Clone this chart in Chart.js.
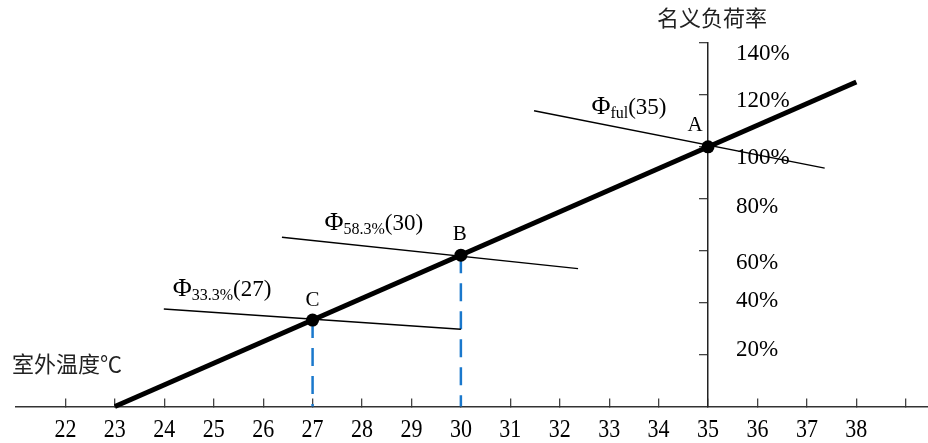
<!DOCTYPE html>
<html>
<head>
<meta charset="utf-8">
<script src="https://cdn.jsdelivr.net/npm/chart.js@4/dist/chart.umd.min.js"></script>
<style>
html,body{margin:0;padding:0;background:#fff;}
#wrap{width:928px;height:443px;position:relative;}
</style>
</head>
<body>
<div id="wrap"><canvas id="c" width="928" height="443"></canvas></div>
<script>
// ---- data ----
const xTicks = [22,23,24,25,26,27,28,29,30,31,32,33,34,35,36,37,38,39];
const xTickLabels = ['22','23','24','25','26','27','28','29','30','31','32','33','34','35','36','37','38',''];
const yTicks = [20,40,60,80,100,120,140];
const yTickLabels = ['20%','40%','60%','80%','100%','120%','140%'];
const yAxisAtX = 35;

const mainLineX = [23, 38];
const mainLineY = [0, 125];

const pointNames = ['A','B','C'];
const pointX = [35, 30, 27];
const pointY = [100, 58.3, 33.3];

const phiFulX = [31.48, 37.36];
const phiFulY = [113.9, 91.8];
const phi583X = [26.38, 32.37];
const phi583Y = [65.2, 53.1];
const phi333X = [23.99, 30.0];
const phi333Y = [37.56, 29.74];

const dropX = [27, 30];
const dropTopY = [33.3, 58.3];

const phiSubs = ['ful', '58.3%', '33.3%'];
const phiArgs = ['(35)', '(30)', '(27)'];
const phiLabelX = [32.64, 27.24, 24.17];
const phiLabelY = [112.7, 68.0, 42.4];

const xTitle = '室外温度℃';
const yTitle = '名义负荷率';

// ---- styles (not data) ----
const yLabelNudge = [-7, -4, 10, 6, 9, 4, 9];
const letterOffset = [[-13,-21],[-1,-21],[0,-20]];
const SERIF = '"Liberation Serif", "Times New Roman", serif';
const CJK = '"Noto Sans CJK SC", sans-serif';

const toPts = (xs, ys) => xs.map((v, i) => ({x: v, y: ys[i]}));

const datasets = [
  {label:'points', data: toPts(pointX, pointY), showLine:false, pointRadius:6.5,
   pointBackgroundColor:'#000', pointBorderColor:'#000', pointBorderWidth:0, order:0},
  {label:'main', data: toPts(mainLineX, mainLineY), borderColor:'#000', borderWidth:5,
   pointRadius:0, order:1},
  {label:'phiFul', data: toPts(phiFulX, phiFulY), borderColor:'#000', borderWidth:1.4, pointRadius:0, order:2},
  {label:'phi583', data: toPts(phi583X, phi583Y), borderColor:'#000', borderWidth:1.4, pointRadius:0, order:2},
  {label:'phi333', data: toPts(phi333X, phi333Y), borderColor:'#000', borderWidth:1.4, pointRadius:0, order:2}
];
dropX.forEach((dx, i) => {
  datasets.push({label:'drop'+i, data:[{x:dx, y:dropTopY[i]}, {x:dx, y:0}], borderColor:'#1a78cc',
    borderWidth:2.5, borderDash:[18,10], pointRadius:0, order:3});
});

function scaledText(ctx, text, px, py, sx) {
  ctx.save();
  ctx.translate(px, py);
  ctx.scale(sx, 1);
  ctx.fillText(text, 0, 0);
  ctx.restore();
}

const overlay = {
  id: 'overlay',
  afterDraw(chart) {
    const {ctx, scales:{x, y}, chartArea} = chart;
    ctx.save();
    const ax = x.getPixelForValue(yAxisAtX);
    const ay = y.getPixelForValue(0);
    ctx.fillStyle = '#000';
    // x tick labels
    ctx.font = '25px ' + SERIF;
    ctx.textAlign = 'center';
    ctx.textBaseline = 'alphabetic';
    xTicks.forEach((v, i) => {
      scaledText(ctx, xTickLabels[i], x.getPixelForValue(v), ay + 30.5, 0.88);
    });
    // y tick labels
    ctx.font = '24px ' + SERIF;
    ctx.textAlign = 'left';
    yTicks.forEach((v, i) => {
      scaledText(ctx, yTickLabels[i], ax + 28, y.getPixelForValue(v) + yLabelNudge[i] + 8, 0.96);
    });
    // titles
    ctx.fillStyle = '#222';
    ctx.font = '22px ' + CJK;
    ctx.textAlign = 'center';
    ctx.textBaseline = 'middle';
    ctx.fillText(yTitle, ax + 4, chartArea.top - 25);
    ctx.textAlign = 'left';
    ctx.fillText(xTitle, chartArea.left - 4, ay - 42.5);
    // point letters
    ctx.fillStyle = '#000';
    ctx.font = '21px ' + SERIF;
    ctx.textAlign = 'center';
    pointNames.forEach((n, i) => {
      ctx.fillText(n, x.getPixelForValue(pointX[i]) + letterOffset[i][0], y.getPixelForValue(pointY[i]) + letterOffset[i][1]);
    });
    // phi labels
    ctx.textAlign = 'left';
    ctx.textBaseline = 'alphabetic';
    phiSubs.forEach((s, i) => {
      let px = x.getPixelForValue(phiLabelX[i]);
      const py = y.getPixelForValue(phiLabelY[i]);
      ctx.font = '26px ' + SERIF;
      ctx.fillText('Φ', px, py);
      px += ctx.measureText('Φ').width;
      ctx.font = '16px ' + SERIF;
      ctx.fillText(s, px, py + 4);
      px += ctx.measureText(s).width;
      ctx.font = '23px ' + SERIF;
      ctx.fillText(phiArgs[i], px, py);
    });
    ctx.restore();
  }
};

new Chart(document.getElementById('c'), {
  type: 'line',
  data: { datasets },
  options: {
    responsive: false,
    animation: false,
    events: [],
    layout: { autoPadding: false, padding: { left: 16, right: 0, top: 43, bottom: 36.5 } },
    plugins: { legend: { display: false }, tooltip: { enabled: false } },
    elements: { line: { tension: 0 } },
    datasets: { line: { clip: false } },
    scales: {
      x: {
        type: 'linear', position: { y: 0 }, min: 21, max: 39.45,
        afterBuildTicks: s => { s.ticks = xTicks.map(v => ({value: v})); },
        afterFit: s => { s.height = 0; },
        ticks: { display: false },
        grid: { drawOnChartArea: false, drawTicks: true, tickLength: -9, color: '#444', lineWidth: 1.3 },
        border: { display: true, color: '#333', width: 1.5 }
      },
      y: {
        type: 'linear', position: { x: yAxisAtX }, min: 0, max: 140,
        afterBuildTicks: s => { s.ticks = yTicks.map(v => ({value: v})); },
        afterFit: s => { s.width = 0; },
        ticks: { display: false },
        grid: { drawOnChartArea: false, drawTicks: true, tickLength: 8, color: '#444', lineWidth: 1.3 },
        border: { display: true, color: '#222', width: 1.5 }
      }
    }
  },
  plugins: [overlay]
});
</script>
</body>
</html>
